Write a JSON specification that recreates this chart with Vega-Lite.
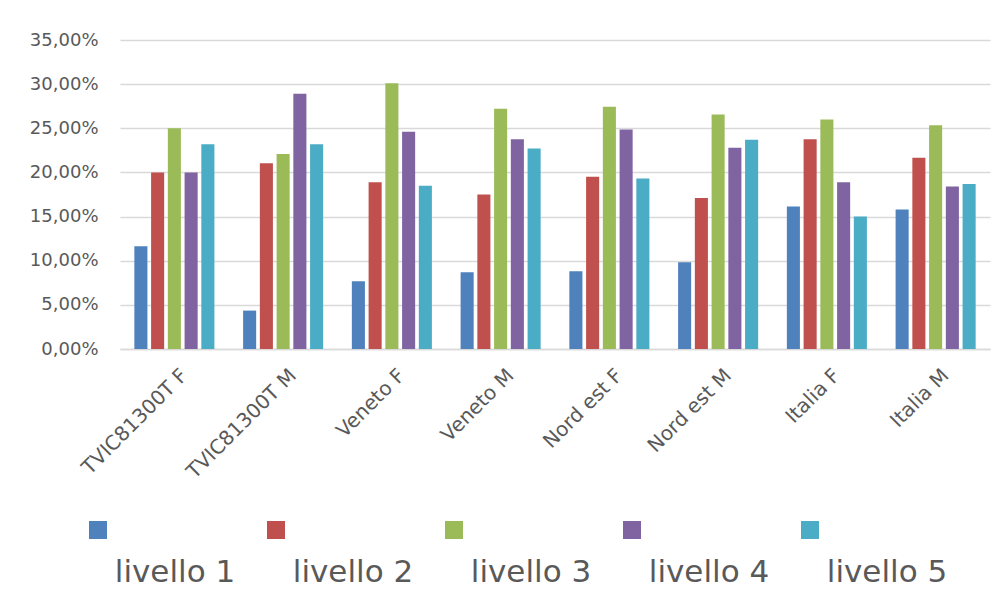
{
  "$schema": "https://vega.github.io/schema/vega-lite/v6.json",
  "background": "white",
  "padding": {"left": 29, "top": 31, "right": 5, "bottom": 0},
  "bounds": "flush",
  "config": {"font": "DejaVu Sans", "view": {"stroke": null}, "concat": {"spacing": 151}},
  "datasets": {
    "bars": [
      {"group": "TVIC81300T F", "level": "livello 1", "value": 0.1165},
      {"group": "TVIC81300T F", "level": "livello 2", "value": 0.200},
      {"group": "TVIC81300T F", "level": "livello 3", "value": 0.250},
      {"group": "TVIC81300T F", "level": "livello 4", "value": 0.200},
      {"group": "TVIC81300T F", "level": "livello 5", "value": 0.232},
      {"group": "TVIC81300T M", "level": "livello 1", "value": 0.0435},
      {"group": "TVIC81300T M", "level": "livello 2", "value": 0.2105},
      {"group": "TVIC81300T M", "level": "livello 3", "value": 0.221},
      {"group": "TVIC81300T M", "level": "livello 4", "value": 0.289},
      {"group": "TVIC81300T M", "level": "livello 5", "value": 0.232},
      {"group": "Veneto F", "level": "livello 1", "value": 0.0766},
      {"group": "Veneto F", "level": "livello 2", "value": 0.189},
      {"group": "Veneto F", "level": "livello 3", "value": 0.301},
      {"group": "Veneto F", "level": "livello 4", "value": 0.246},
      {"group": "Veneto F", "level": "livello 5", "value": 0.185},
      {"group": "Veneto M", "level": "livello 1", "value": 0.087},
      {"group": "Veneto M", "level": "livello 2", "value": 0.175},
      {"group": "Veneto M", "level": "livello 3", "value": 0.272},
      {"group": "Veneto M", "level": "livello 4", "value": 0.2375},
      {"group": "Veneto M", "level": "livello 5", "value": 0.227},
      {"group": "Nord est F", "level": "livello 1", "value": 0.088},
      {"group": "Nord est F", "level": "livello 2", "value": 0.195},
      {"group": "Nord est F", "level": "livello 3", "value": 0.2745},
      {"group": "Nord est F", "level": "livello 4", "value": 0.2485},
      {"group": "Nord est F", "level": "livello 5", "value": 0.193},
      {"group": "Nord est M", "level": "livello 1", "value": 0.0984},
      {"group": "Nord est M", "level": "livello 2", "value": 0.171},
      {"group": "Nord est M", "level": "livello 3", "value": 0.2655},
      {"group": "Nord est M", "level": "livello 4", "value": 0.228},
      {"group": "Nord est M", "level": "livello 5", "value": 0.237},
      {"group": "Italia F", "level": "livello 1", "value": 0.1615},
      {"group": "Italia F", "level": "livello 2", "value": 0.2375},
      {"group": "Italia F", "level": "livello 3", "value": 0.260},
      {"group": "Italia F", "level": "livello 4", "value": 0.189},
      {"group": "Italia F", "level": "livello 5", "value": 0.150},
      {"group": "Italia M", "level": "livello 1", "value": 0.158},
      {"group": "Italia M", "level": "livello 2", "value": 0.2165},
      {"group": "Italia M", "level": "livello 3", "value": 0.2535},
      {"group": "Italia M", "level": "livello 4", "value": 0.184},
      {"group": "Italia M", "level": "livello 5", "value": 0.187}
    ],
    "levels": [
      {"level": "livello 1"},
      {"level": "livello 2"},
      {"level": "livello 3"},
      {"level": "livello 4"},
      {"level": "livello 5"}
    ]
  },
  "vconcat": [
    {
      "data": {"name": "bars"},
      "width": 870,
      "height": 309,
      "mark": {"type": "bar"},
      "encoding": {
        "x": {
          "field": "group", "type": "nominal", "sort": null,
          "scale": {"paddingInner": 0.264, "paddingOuter": 0.132},
          "axis": {"title": null, "labelAngle": -45, "labelAlign": "right", "labelBaseline": "top", "labelFontSize": 20, "labelColor": "#595959", "ticks": false, "domainColor": "#d9d9d9", "domainWidth": 1.5, "labelPadding": 16, "labelOffset": 3, "grid": false}
        },
        "xOffset": {"field": "level", "type": "nominal", "scale": {"paddingInner": 0.22, "paddingOuter": 0}},
        "y": {
          "field": "value", "type": "quantitative",
          "scale": {"domain": [0, 0.35]},
          "axis": {"title": null, "values": [0, 0.05, 0.1, 0.15, 0.2, 0.25, 0.3, 0.35], "labelExpr": "replace(format(datum.value, '.2%'), '.', ',')", "labelFontSize": 18, "labelColor": "#595959", "ticks": false, "domain": false, "gridColor": "#d9d9d9", "gridWidth": 1.5, "labelPadding": 22}
        },
        "color": {
          "field": "level", "type": "nominal",
          "scale": {"domain": ["livello 1", "livello 2", "livello 3", "livello 4", "livello 5"], "range": ["#4F81BD", "#C0504D", "#9BBB59", "#8064A2", "#4BACC6"]},
          "legend": null
        }
      }
    },
    {
      "data": {"name": "levels"},
      "width": 890,
      "height": 60,
      "layer": [
        {
          "mark": {"type": "point", "shape": "square", "filled": true, "size": 324, "opacity": 1, "xOffset": -111},
          "encoding": {
            "x": {"field": "level", "type": "nominal", "axis": null},
            "color": {"field": "level", "type": "nominal", "legend": null}
          }
        },
        {
          "mark": {"type": "text", "fontSize": 31, "color": "#595959", "xOffset": -34, "yOffset": 52, "baseline": "alphabetic", "align": "center"},
          "encoding": {
            "x": {"field": "level", "type": "nominal", "axis": null},
            "text": {"field": "level"}
          }
        }
      ]
    }
  ]
}
